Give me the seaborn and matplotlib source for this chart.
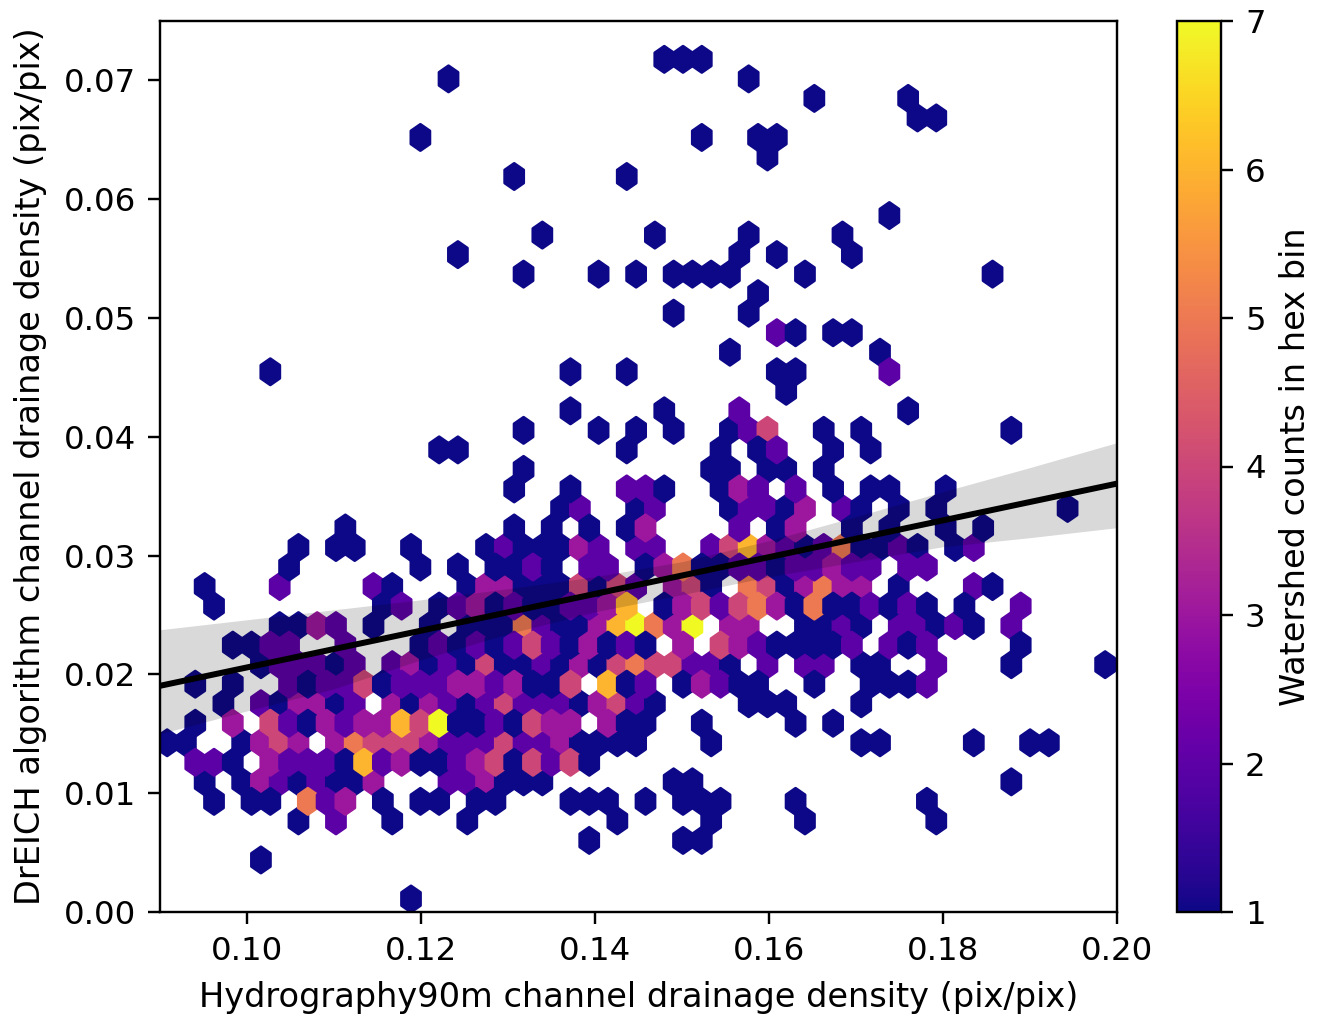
import numpy as np
import pandas as pd
import matplotlib
matplotlib.use("Agg")
import matplotlib.pyplot as plt
import seaborn as sns

# hex bins of the busy part of the plot, one list per row, left to right (0 = empty bin)
row_03 = [0,0,0,0,0,0,0,0,0,0, 0,0,0,0,0,0,0,0,0,0, 0,0,1,0,0,0,0,1,1]
row_04 = [0,0,0,0,0,0,0,1,0,2, 0,0,1,0,0,0,1,0,0,0, 0,0,0,0,1,0,0,0,0,1, 0,0,0,0,1,0,0,0,0,0, 0,1]
row_05 = [0,0,1,0,1,1,0,5,2,3, 0,1,0,1,1,0,1,1,0,0, 0,1,1,1,0,1,0,1,1,1, 0,0,0,1,0,0,0,0,0,0, 1]
row_06 = [0,0,1,0,1,3,2,1,2,1, 1,3,0,0,0,2,2,3,1,1, 1,0,0,0,0,0,0,1,1,0, 0,0,0,0,0,0,0,0,0,0, 0,0,0,0,0,1]
row_07 = [0,2,2,1,0,3,2,2,2,1, 6,2,3,1,1,2,3,4,1,4, 2,4,1]
row_08 = [1,1,0,0,1,3,4,3,0,3, 5,4,4,4,3,2,2,2,4,2, 2,3,1,1,1,1,0,0,0,1, 0,0,0,0,0,0,0,1,1,0, 0,0,0,1,0,0,1,1]
row_09 = [0,1,0,3,0,4,2,1,3,2, 3,3,6,4,7,1,1,2,1,4, 3,3,0,3,1,1,0,0,1,0, 0,0,0,1,0,1]
row_10 = [0,0,0,1,0,2,1,3,3,1, 2,0,3,1,3,2,1,2,4,2, 2,2,1,3,4,2,1,0,0,0, 0,1,1,1,0,0,0,1]
row_11 = [0,1,0,1,0,0,2,1,2,2, 4,1,2,2,2,3,3,2,3,1, 1,4,0,6,1,2,0,1,3,2, 1,1,0,0,1,0,0,1,1,1, 2]
row_12 = [0,0,0,0,0,1,2,2,2,1, 2,0,2,3,1,2,1,4,1,1, 2,1,3,1,4,5,4,4,2,2, 1,0,2,0,2,2,0,1,1,0, 0,2,0,0,0,1,0,0,0,0, 1]
row_13 = [0,0,0,1,1,2,2,0,0,2, 0,0,0,1,2,1,2,1,2,4, 2,1,3,1,2,1,0,3,0,4, 3,2,1,1,1,1,2,0,2,1, 2,0,0,0,0,1]
row_14 = [0,0,0,0,0,0,1,1,3,2, 0,1,0,0,1,0,1,1,1,5, 2,1,1,3,6,7,5,3,7,0, 3,3,0,0,1,1,2,1,0,2, 2,1,2,1,0,2]
row_15 = [0,0,1,0,0,0,0,0,0,0, 0,1,2,0,1,2,3,1,2,1, 1,2,2,3,6,0,1,3,4,2, 4,5,3,1,5,1,1,2,1,2, 1,0,1,0,0,2]
row_16 = [0,0,1,0,0,0,2,0,0,0, 0,2,1,0,0,0,1,3,3,1, 1,1,4,1,4,2,0,3,4,1, 0,5,4,1,3,5,3,3,0,1, 0,0,0,2,1]
row_17 = [0,0,0,0,0,0,1,0,0,0, 0,0,0,1,0,1,0,1,1,2, 1,0,2,2,0,1,3,5,1,1, 2,2,1,2,2,3,2,2,0,2, 2]
row_18 = [0,0,0,0,0,0,0,1,0,1, 1,0,0,1,0,0,0,1,2,1, 1,1,3,2,0,2,2,0,0,2, 4,6,3,2,1,2,5,1,1,2, 1,0,1,2]
row_19 = [0,0,0,0,0,0,0,0,0,1, 0,0,0,0,0,0,0,0,1,0, 1,0,1,0,1,3,0,0,0,0, 2,0,1,3,0,0,1,0,1,0, 0,1,0,1]
row_20 = [0,0,0,0,0,0,0,0,0,0, 0,0,0,0,0,0,0,0,0,0, 0,1,2,0,0,1,2,0,0,0, 1,2,2,1,3,0,2,1,0,1, 0,1,0,0,0,0,0,0,1]
row_21 = [0,0,0,0,0,0,0,0,0,0, 0,0,0,0,0,0,0,0,1,0, 0,1,0,0,2,2,1,0,0,1, 3,2,0,2,0,1,0,1,1,0, 0,1]
row_22 = [0,0,0,0,0,0,0,0,0,0, 0,0,0,0,0,0,0,0,0,1, 0,0,0,0,0,0,0,0,0,1, 1,0,1,1,0,1]
row_23 = [0,0,0,0,0,0,0,0,0,0, 0,0,0,0,1,1,0,0,0,0, 0,0,0,0,1,0,0,0,0,1, 0,1,2,0,0,1,0,1]
row_24 = [0,0,0,0,0,0,0,0,0,0, 0,0,0,0,0,0,0,0,0,1, 0,0,0,1,0,1,0,1,0,0, 1,2,4,0,0,1,0,1,0,0, 0,0,0,0,0,1]
row_25 = [0,0,0,0,0,0,0,0,0,0, 0,0,0,0,0,0,0,0,0,0, 0,1,0,0,0,0,1,0,0,0, 2,0,0,0,0,0,0,0,0,1]

row_counts = [row_03, row_04, row_05, row_06, row_07, row_08, row_09, row_10, row_11, row_12, row_13,
              row_14, row_15, row_16, row_17, row_18, row_19, row_20, row_21, row_22, row_23, row_24, row_25]
row_y = [0.00603, 0.00767, 0.00931, 0.01096, 0.01260, 0.01424, 0.01589, 0.01753, 0.01917, 0.02082, 0.02246,
         0.02411, 0.02575, 0.02739, 0.02904, 0.03068, 0.03232, 0.03397, 0.03561, 0.03725, 0.03890, 0.04054, 0.04218]
odd_row_x0 = 0.091896
even_row_x0 = 0.090818
hex_width = 0.0021563

# the scattered watersheds outside of the cloud
lone_x = [0.11885, 0.10160, 0.16198, 0.10268, 0.13718, 0.14365, 0.16090, 0.16306, 0.17384, 0.15551, 0.17276,
          0.16090, 0.16306, 0.16737, 0.16953, 0.14904, 0.15766, 0.15874, 0.13179, 0.14042, 0.14473, 0.14904,
          0.15120, 0.15335, 0.15551, 0.16414, 0.18570, 0.12424, 0.15659, 0.16090, 0.16953, 0.13395, 0.14688,
          0.15766, 0.16845, 0.17384, 0.13071, 0.14365, 0.15982, 0.11993, 0.15227, 0.15874, 0.16090, 0.17707,
          0.17923, 0.16521, 0.17600, 0.12316, 0.15766, 0.14796, 0.15012, 0.15227]
lone_y = [0.00110, 0.00438, 0.04383, 0.04547, 0.04547, 0.04547, 0.04547, 0.04547, 0.04547, 0.04711, 0.04711,
          0.04876, 0.04876, 0.04876, 0.04876, 0.05040, 0.05040, 0.05205, 0.05369, 0.05369, 0.05369, 0.05369,
          0.05369, 0.05369, 0.05369, 0.05369, 0.05369, 0.05534, 0.05534, 0.05534, 0.05534, 0.05698, 0.05698,
          0.05698, 0.05698, 0.05862, 0.06191, 0.06191, 0.06355, 0.06520, 0.06520, 0.06520, 0.06520, 0.06684,
          0.06684, 0.06848, 0.06848, 0.07013, 0.07013, 0.07177, 0.07177, 0.07177]
lone_n = [1, 1, 1, 1, 1, 1, 1, 1, 2, 1, 1,
          2, 1, 1, 1, 1, 1, 1, 1, 1, 1, 1,
          1, 1, 1, 1, 1, 1, 1, 1, 1, 1, 1,
          1, 1, 1, 1, 1, 1, 1, 1, 1, 1, 1,
          1, 1, 1, 1, 1, 1, 1, 1]

# regression line and its confidence band
fit_x = [0.09, 0.20]
fit_y = [0.01904, 0.03606]
band_x = [0.09, 0.10, 0.11, 0.12, 0.13, 0.14, 0.15, 0.16, 0.17, 0.18, 0.19, 0.20]
band_high = [0.02376, 0.02460, 0.02544, 0.02628, 0.02721, 0.02822, 0.02949, 0.03126, 0.03328, 0.03538, 0.03741, 0.03951]
band_low = [0.01500, 0.01693, 0.01879, 0.02123, 0.02342, 0.02527, 0.02671, 0.02822, 0.02949, 0.03075, 0.03151, 0.03235]

x_ticks = [0.10, 0.12, 0.14, 0.16, 0.18, 0.20]
y_ticks = [0.00, 0.01, 0.02, 0.03, 0.04, 0.05, 0.06, 0.07]
bar_ticks = [1, 2, 3, 4, 5, 6, 7]

# one point per watershed
xs, ys, ns = list(lone_x), list(lone_y), list(lone_n)
for r, (yval, counts) in enumerate(zip(row_y, row_counts)):
    x0 = odd_row_x0 if r % 2 == 0 else even_row_x0
    for i, n in enumerate(counts):
        if n > 0:
            xs.append(x0 + i * hex_width)
            ys.append(yval)
            ns.append(n)
df = pd.DataFrame({"x": xs, "y": ys, "n": ns})
df = df.loc[df.index.repeat(df["n"])]

plt.rcParams["xtick.labelsize"] = 10.8
plt.rcParams["ytick.labelsize"] = 10.8
plt.rcParams["axes.labelsize"] = 11.2
plt.rcParams["xtick.major.size"] = 4
plt.rcParams["ytick.major.size"] = 4
plt.rcParams["xtick.major.pad"] = 4
plt.rcParams["ytick.major.pad"] = 4

fig = plt.figure(figsize=(1321 / 216, 1021 / 216), dpi=216)
ax = fig.add_axes([160 / 1321, 109 / 1021, 957 / 1321, 891 / 1021])
cax = fig.add_axes([1177 / 1321, 109 / 1021, 44 / 1321, 891 / 1021])

hb = ax.hexbin(df["x"], df["y"], gridsize=(52, 22), extent=(0.088663, 0.200791, 0.001095, 0.073416),
               cmap="plasma", mincnt=1)
ax.fill_between(band_x, band_low, band_high, color="k", alpha=0.15, linewidth=0)
sns.lineplot(x=fit_x, y=fit_y, color="k", linewidth=2, ax=ax)

ax.set_xlim(0.09, 0.20)
ax.set_ylim(0, 0.075)
ax.set_xticks(x_ticks)
ax.set_yticks(y_ticks)
ax.set_xlabel("Hydrography90m channel drainage density (pix/pix)", labelpad=4.6)
ax.set_ylabel("DrEICH algorithm channel drainage density (pix/pix)", labelpad=5.6)

cbar = fig.colorbar(hb, cax=cax)
cbar.set_ticks(bar_ticks)
cbar.set_label("Watershed counts in hex bin", labelpad=4.6)

fig.savefig("out.png", dpi=216)
